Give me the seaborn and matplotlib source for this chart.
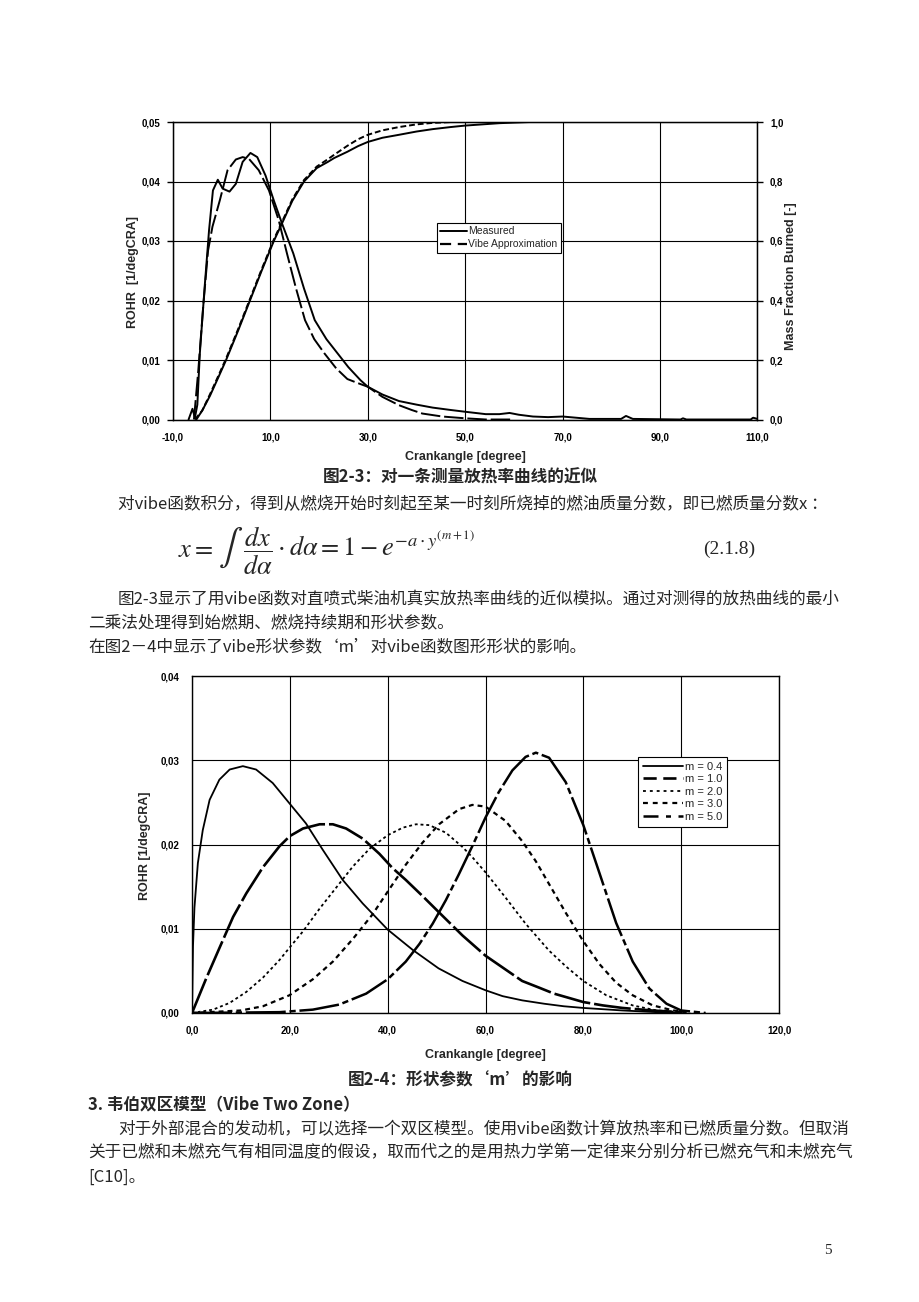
import matplotlib
matplotlib.use("Agg")
import matplotlib.pyplot as plt
import seaborn as sns
from matplotlib.lines import Line2D

# ---------------- Data: Fig 2-3 (measured vs Vibe) ----------------
rohr_meas_x = [-6.8, -6.0, -5.5, -5.0, -4.5, -3.5, -2.6, -1.8, -0.8, 0.2, 1.6, 2.9, 4.3, 5.9, 7.3,
               9.0, 10.7, 12.4, 14.7, 16.9, 19.1, 21.5, 23.8, 26.0, 28.5, 30.0, 33.0, 36.4, 40.0,
               43.3, 47.0, 50.0, 54.2, 57.0, 59.1, 61.0, 63.9, 67.0, 70.0, 75.5, 82.0, 83.0, 84.4,
               94.2, 94.7, 95.4, 108.6, 109.1, 110.0]
rohr_meas_y = [0.0, 0.0018, 0.0003, 0.0025, 0.0110, 0.0223, 0.0318, 0.0385, 0.0403, 0.0388, 0.0383,
               0.0396, 0.0433, 0.0448, 0.0441, 0.0410, 0.0368, 0.0329, 0.0279, 0.0220, 0.0167, 0.0135,
               0.0111, 0.0088, 0.0066, 0.0055, 0.0042, 0.0031, 0.0025, 0.0020, 0.0016, 0.0013, 0.0009,
               0.0009, 0.0011, 0.0008, 0.0005, 0.0004, 0.0005, 0.0001, 0.0001, 0.0006, 0.0001, 0.0,
               0.0002, 0.0, 0.0, 0.0003, 0.0001]

rohr_vibe_x = [-5.7, -4.8, -3.8, -2.8, -1.9, -0.4, 1.2, 2.9, 4.3, 5.6, 7.6, 9.7, 11.7, 13.4, 15.2,
               17.1, 19.0, 21.1, 23.5, 25.8, 28.0, 30.0, 33.0, 36.4, 39.0, 41.2, 45.3, 50.0, 54.2, 60.0]
rohr_vibe_y = [0.0, 0.0083, 0.0190, 0.0284, 0.0324, 0.0368, 0.0419, 0.0437, 0.0441, 0.0438, 0.0419,
               0.0385, 0.0335, 0.0279, 0.0222, 0.0167, 0.0135, 0.0111, 0.0086, 0.0068, 0.0061, 0.0055,
               0.0038, 0.0024, 0.0016, 0.0010, 0.0005, 0.0002, 0.0, 0.0]

mfb_meas_x = [-5.2, -4.0, -2.4, -0.6, 0.9, 3.4, 5.8, 8.2, 10.7, 12.4, 14.5, 16.9, 19.5, 21.8, 23.1,
              25.8, 28.0, 30.0, 33.0, 36.4, 40.0, 43.3, 47.0, 50.0, 53.5, 57.0, 60.0, 63.2]
mfb_meas_y = [0.0, 0.03, 0.08, 0.145, 0.200, 0.300, 0.400, 0.500, 0.600, 0.660, 0.735, 0.800, 0.845,
              0.866, 0.879, 0.900, 0.919, 0.933, 0.947, 0.957, 0.968, 0.976, 0.983, 0.988, 0.992,
              0.996, 0.998, 1.0]

mfb_vibe_x = [-5.5, -4.0, -2.4, -0.6, 0.9, 3.4, 5.8, 8.2, 10.7, 12.4, 14.5, 16.9, 19.5, 21.8, 23.1,
              25.8, 28.0, 30.0, 33.0, 36.4, 40.0, 43.3, 47.4, 52.0]
mfb_vibe_y = [0.0, 0.03, 0.085, 0.150, 0.205, 0.305, 0.405, 0.505, 0.605, 0.665, 0.740, 0.805, 0.850,
              0.875, 0.890, 0.920, 0.942, 0.957, 0.972, 0.983, 0.992, 0.997, 1.0, 1.0]

f1_xticks = [-10, 10, 30, 50, 70, 90, 110]
f1_xlabels = ["-10,0", "10,0", "30,0", "50,0", "70,0", "90,0", "110,0"]
f1_yticks = [0.0, 0.01, 0.02, 0.03, 0.04, 0.05]
f1_ylabels = ["0,00", "0,01", "0,02", "0,03", "0,04", "0,05"]
f1_rticks = [0.0, 0.2, 0.4, 0.6, 0.8, 1.0]
f1_rlabels = ["0,0", "0,2", "0,4", "0,6", "0,8", "1,0"]
f1_legend = ["Measured", "Vibe Approximation"]

# ---------------- Data: Fig 2-4 (shape parameter m) ----------------
m_labels = ["m = 0.4", "m = 1.0", "m = 2.0", "m = 3.0", "m = 5.0"]

m04_x = [0, 0.2, 0.5, 1.2, 2.2, 3.6, 5.6, 7.7, 10.4, 13.1, 16.5, 19.9, 23.3, 26.7, 30.8, 34.9,
         40.0, 45.1, 50.4, 55.3, 60.0, 63.5, 67.5, 72.0, 76.0, 80.0, 88.0, 95.0, 100.0]
m04_y = [0.0, 0.0079, 0.0125, 0.0178, 0.0217, 0.0253, 0.0277, 0.0289, 0.0293, 0.0289, 0.0273,
         0.0249, 0.0225, 0.0194, 0.0158, 0.0130, 0.0099, 0.0075, 0.0053, 0.0038, 0.0027, 0.0020,
         0.0015, 0.0011, 0.0008, 0.0006, 0.0003, 0.0001, 0.0]

m10_x = [0, 2.9, 5.6, 8.4, 11.1, 14.5, 17.9, 20.0, 22.7, 26.1, 28.8, 31.5, 34.9, 38.3, 41.0, 43.7,
         47.1, 50.4, 55.3, 60.0, 64.0, 67.5, 71.0, 74.0, 77.0, 80.0, 84.0, 88.0, 94.0, 100.0]
m10_y = [0.0, 0.0041, 0.0077, 0.0114, 0.0142, 0.0173, 0.0198, 0.0210, 0.0219, 0.0224, 0.0224,
         0.0219, 0.0207, 0.0189, 0.0172, 0.0158, 0.0139, 0.0120, 0.0092, 0.0068, 0.0052, 0.0038,
         0.0030, 0.0023, 0.0018, 0.0013, 0.0009, 0.0006, 0.0003, 0.0001]

m20_x = [0, 4.3, 7.7, 11.1, 14.5, 17.9, 20.0, 22.7, 26.1, 29.5, 32.9, 36.3, 40.0, 43.1, 45.8, 48.5,
         51.9, 55.3, 57.3, 60.0, 64.1, 68.2, 73.0, 76.5, 80.0, 84.7, 90.1, 95.0, 100.0]
m20_y = [0.0, 0.0004, 0.0012, 0.0025, 0.0042, 0.0063, 0.0078, 0.0097, 0.0124, 0.0149, 0.0174,
         0.0195, 0.0211, 0.0220, 0.0224, 0.0223, 0.0214, 0.0197, 0.0185, 0.0167, 0.0137, 0.0106,
         0.0074, 0.0055, 0.0038, 0.0021, 0.0009, 0.0003, 0.0001]

m30_x = [0, 10.0, 14.5, 19.9, 24.7, 28.8, 32.9, 36.9, 40.0, 43.7, 47.1, 50.5, 54.6, 57.3, 60.0,
         64.1, 67.5, 70.3, 73.0, 76.4, 79.9, 83.3, 86.7, 90.1, 94.2, 98.4, 102.0]
m30_y = [0.0, 0.0003, 0.0008, 0.0021, 0.0040, 0.0061, 0.0088, 0.0117, 0.0144, 0.0176, 0.0202,
         0.0224, 0.0242, 0.0247, 0.0245, 0.0228, 0.0204, 0.0180, 0.0153, 0.0119, 0.0086, 0.0058,
         0.0036, 0.0021, 0.0009, 0.0003, 0.0]

m50_x = [0, 17.9, 24.7, 30.1, 35.6, 40.0, 43.7, 46.5, 49.2, 51.9, 54.5, 57.3, 60.0, 62.7, 65.5,
         68.2, 70.3, 73.0, 76.4, 80.0, 83.3, 86.7, 90.1, 93.5, 97.0, 100.0, 105.0]
m50_y = [0.0, 0.0001, 0.0004, 0.0010, 0.0023, 0.0040, 0.0061, 0.0082, 0.0106, 0.0134, 0.0164,
         0.0198, 0.0232, 0.0262, 0.0288, 0.0304, 0.0309, 0.0303, 0.0274, 0.0223, 0.0166, 0.0107,
         0.0061, 0.0029, 0.0011, 0.0003, 0.0]

f2_xticks = [0, 20, 40, 60, 80, 100, 120]
f2_xlabels = ["0,0", "20,0", "40,0", "60,0", "80,0", "100,0", "120,0"]
f2_yticks = [0.0, 0.01, 0.02, 0.03, 0.04]
f2_ylabels = ["0,00", "0,01", "0,02", "0,03", "0,04"]

# ---------------- Page text ----------------
cap1 = "图2-3：对一条测量放热率曲线的近似"
line1 = "对vibe函数积分，得到从燃烧开始时刻起至某一时刻所烧掉的燃油质量分数，即已燃质量分数x ："
formula_a = r"$x=$"
formula_int = r"$\int$"
formula_b = r"$\dfrac{dx}{d\alpha}\cdot d\alpha=1-e^{-a\cdot y^{(m+1)}}$"
eqno = "(2.1.8)"
line2 = "图2-3显示了用vibe函数对直喷式柴油机真实放热率曲线的近似模拟。通过对测得的放热曲线的最小"
line3 = "二乘法处理得到始燃期、燃烧持续期和形状参数。"
line4 = "在图2－4中显示了vibe形状参数‘m’对vibe函数图形形状的影响。"
cap2 = "图2-4：形状参数‘m’的影响"
head3 = "3. 韦伯双区模型（Vibe Two Zone）"
line5 = "对于外部混合的发动机，可以选择一个双区模型。使用vibe函数计算放热率和已燃质量分数。但取消"
line6 = "关于已燃和未燃充气有相同温度的假设，取而代之的是用热力学第一定律来分别分析已燃充气和未燃充气"
line7 = "[C10]。"
pageno = "5"

# ---------------- Style ----------------
sns.set_style("white")
plt.rcParams['font.family'] = ['Liberation Sans', 'Noto Sans CJK SC', 'DejaVu Sans']
plt.rcParams['mathtext.fontset'] = 'stix'
CJK = ['Noto Sans CJK SC', 'DejaVu Sans']

W, H = 920, 1302
fig = plt.figure(figsize=(W / 100, H / 100), dpi=100)
fig.patch.set_facecolor("white")


def fx(px):
    return px / W


def fy(py):
    return 1 - py / H


def style_axes(ax):
    for s in ax.spines.values():
        s.set_color("black")
        s.set_linewidth(1.0)
    ax.grid(True, color="black", linewidth=0.8)
    ax.set_axisbelow(True)
    ax.tick_params(direction="out", length=4, width=1, colors="black", pad=5)


# ---------------- Figure 2-3 ----------------
L1, R1, T1, B1 = 173, 757.5, 122, 419.5
ax1 = fig.add_axes([fx(L1), fy(B1), (R1 - L1) / W, (B1 - T1) / H])
ax1r = ax1.twinx()

sns.lineplot(x=rohr_meas_x, y=rohr_meas_y, ax=ax1, color="black", linewidth=1.4,
             sort=False, estimator=None)
sns.lineplot(x=rohr_vibe_x, y=rohr_vibe_y, ax=ax1, color="black", linewidth=1.4,
             sort=False, estimator=None)
ax1.lines[-1].set_dashes([10, 2])
sns.lineplot(x=mfb_meas_x, y=mfb_meas_y, ax=ax1r, color="black", linewidth=1.4,
             sort=False, estimator=None)
sns.lineplot(x=mfb_vibe_x, y=mfb_vibe_y, ax=ax1r, color="black", linewidth=1.4,
             sort=False, estimator=None)
ax1r.lines[-1].set_dashes([3, 1.5])

ax1.set_xlim(-10, 110)
ax1.set_ylim(0, 0.05)
ax1r.set_ylim(0, 1.0)
style_axes(ax1)
ax1r.grid(False)
for s in ax1r.spines.values():
    s.set_color("black")
ax1r.tick_params(direction="out", length=4, width=1, colors="black", pad=5)
ax1.set_xticks(f1_xticks)
ax1.set_xticklabels(f1_xlabels, fontsize=7, fontweight="bold")
ax1.set_yticks(f1_yticks)
ax1.set_yticklabels(f1_ylabels, fontsize=7, fontweight="bold")
ax1r.set_yticks(f1_rticks)
ax1r.set_yticklabels(f1_rlabels, fontsize=7, fontweight="bold")
ax1.set_xlabel("")
ax1.set_ylabel("")
ax1r.set_ylabel("")

h1 = [Line2D([], [], color="black", lw=1.4),
      Line2D([], [], color="black", lw=1.6, dashes=[5, 3])]
leg1 = ax1r.legend(h1, f1_legend, loc="upper left", bbox_to_anchor=(0.452, 0.660),
                   fontsize=7.5, frameon=True, fancybox=False, framealpha=1,
                   edgecolor="black", handlelength=2.6, handletextpad=0.1,
                   borderpad=0.3, labelspacing=0.3, borderaxespad=0)
leg1.get_frame().set_linewidth(0.8)

fig.text(fx(465), fy(457), "Crankangle [degree]", fontsize=9, fontweight="bold",
         ha="center", va="center")
fig.text(fx(133), fy(272), "ROHR  [1/degCRA]", fontsize=9, fontweight="bold",
         ha="center", va="center", rotation=90)
fig.text(fx(791), fy(276), "Mass Fraction Burned [-]", fontsize=9, fontweight="bold",
         ha="center", va="center", rotation=90)

# ---------------- Figure 2-4 ----------------
L2, R2, T2, B2 = 192, 779, 676, 1013
ax2 = fig.add_axes([fx(L2), fy(B2), (R2 - L2) / W, (B2 - T2) / H])
series = [(m04_x, m04_y, None, 1.3),
          (m10_x, m10_y, [14, 1.5], 1.9),
          (m20_x, m20_y, [1.6, 1.6], 1.3),
          (m30_x, m30_y, [2.2, 1.8], 1.6),
          (m50_x, m50_y, [16, 1.5, 2.5, 1.5], 1.8)]
leg_dashes = [None, [5, 2.5], [1.6, 2.2], [2.2, 2.2], [6, 3, 2, 3]]
handles2 = []
for (xs, ys, dash, lw), ld in zip(series, leg_dashes):
    sns.lineplot(x=xs, y=ys, ax=ax2, color="black", linewidth=lw, sort=False, estimator=None)
    if dash is not None:
        ax2.lines[-1].set_dashes(dash)
        handles2.append(Line2D([], [], color="black", lw=lw, dashes=ld))
    else:
        handles2.append(Line2D([], [], color="black", lw=lw))

ax2.set_xlim(0, 120)
ax2.set_ylim(0, 0.04)
style_axes(ax2)
ax2.set_xticks(f2_xticks)
ax2.set_xticklabels(f2_xlabels, fontsize=7, fontweight="bold")
ax2.set_yticks(f2_yticks)
ax2.set_yticklabels(f2_ylabels, fontsize=7, fontweight="bold")
ax2.set_xlabel("")
ax2.set_ylabel("")

leg2 = ax2.legend(handles2, m_labels, loc="upper left", bbox_to_anchor=(0.760, 0.760),
                  fontsize=8, frameon=True, fancybox=False, framealpha=1,
                  edgecolor="black", handlelength=3.6, handletextpad=0.15,
                  borderpad=0.45, labelspacing=0.22, borderaxespad=0)
leg2.get_frame().set_linewidth(0.8)

fig.text(fx(485), fy(1055), "Crankangle [degree]", fontsize=9, fontweight="bold",
         ha="center", va="center")
fig.text(fx(145), fy(846), "ROHR [1/degCRA]", fontsize=9, fontweight="bold",
         ha="center", va="center", rotation=90)

# ---------------- Page text ----------------
fs = 12
fig.text(fx(460), fy(478), cap1, fontsize=fs, fontweight="bold", family=CJK,
         ha="center", va="center")
fig.text(fx(118), fy(505), line1, fontsize=fs, family=CJK, ha="left", va="center")
fig.text(fx(178), fy(557), formula_a, fontsize=19, ha="left", va="baseline")
fig.text(fx(218), fy(557), formula_int, fontsize=26, ha="left", va="baseline")
fig.text(fx(243), fy(557), formula_b, fontsize=19, ha="left", va="baseline")
fig.text(fx(703), fy(549), eqno, fontsize=14, family=["Liberation Serif"], ha="left", va="center")
fig.text(fx(118), fy(600), line2, fontsize=fs, family=CJK, ha="left", va="center")
fig.text(fx(88), fy(623), line3, fontsize=fs, family=CJK, ha="left", va="center")
fig.text(fx(88), fy(647), line4, fontsize=fs, family=CJK, ha="left", va="center")
fig.text(fx(460), fy(1080), cap2, fontsize=fs, fontweight="bold", family=CJK,
         ha="center", va="center")
fig.text(fx(88), fy(1105), head3, fontsize=fs, fontweight="bold", family=CJK,
         ha="left", va="center")
fig.text(fx(118), fy(1130), line5, fontsize=fs, family=CJK, ha="left", va="center")
fig.text(fx(88), fy(1153), line6, fontsize=fs, family=CJK, ha="left", va="center")
fig.text(fx(88), fy(1177), line7, fontsize=fs, family=CJK, ha="left", va="center")
fig.text(fx(828), fy(1250), pageno, fontsize=11, family=["Liberation Serif"],
         ha="center", va="center")

fig.savefig("out.png", dpi=100, facecolor="white")
